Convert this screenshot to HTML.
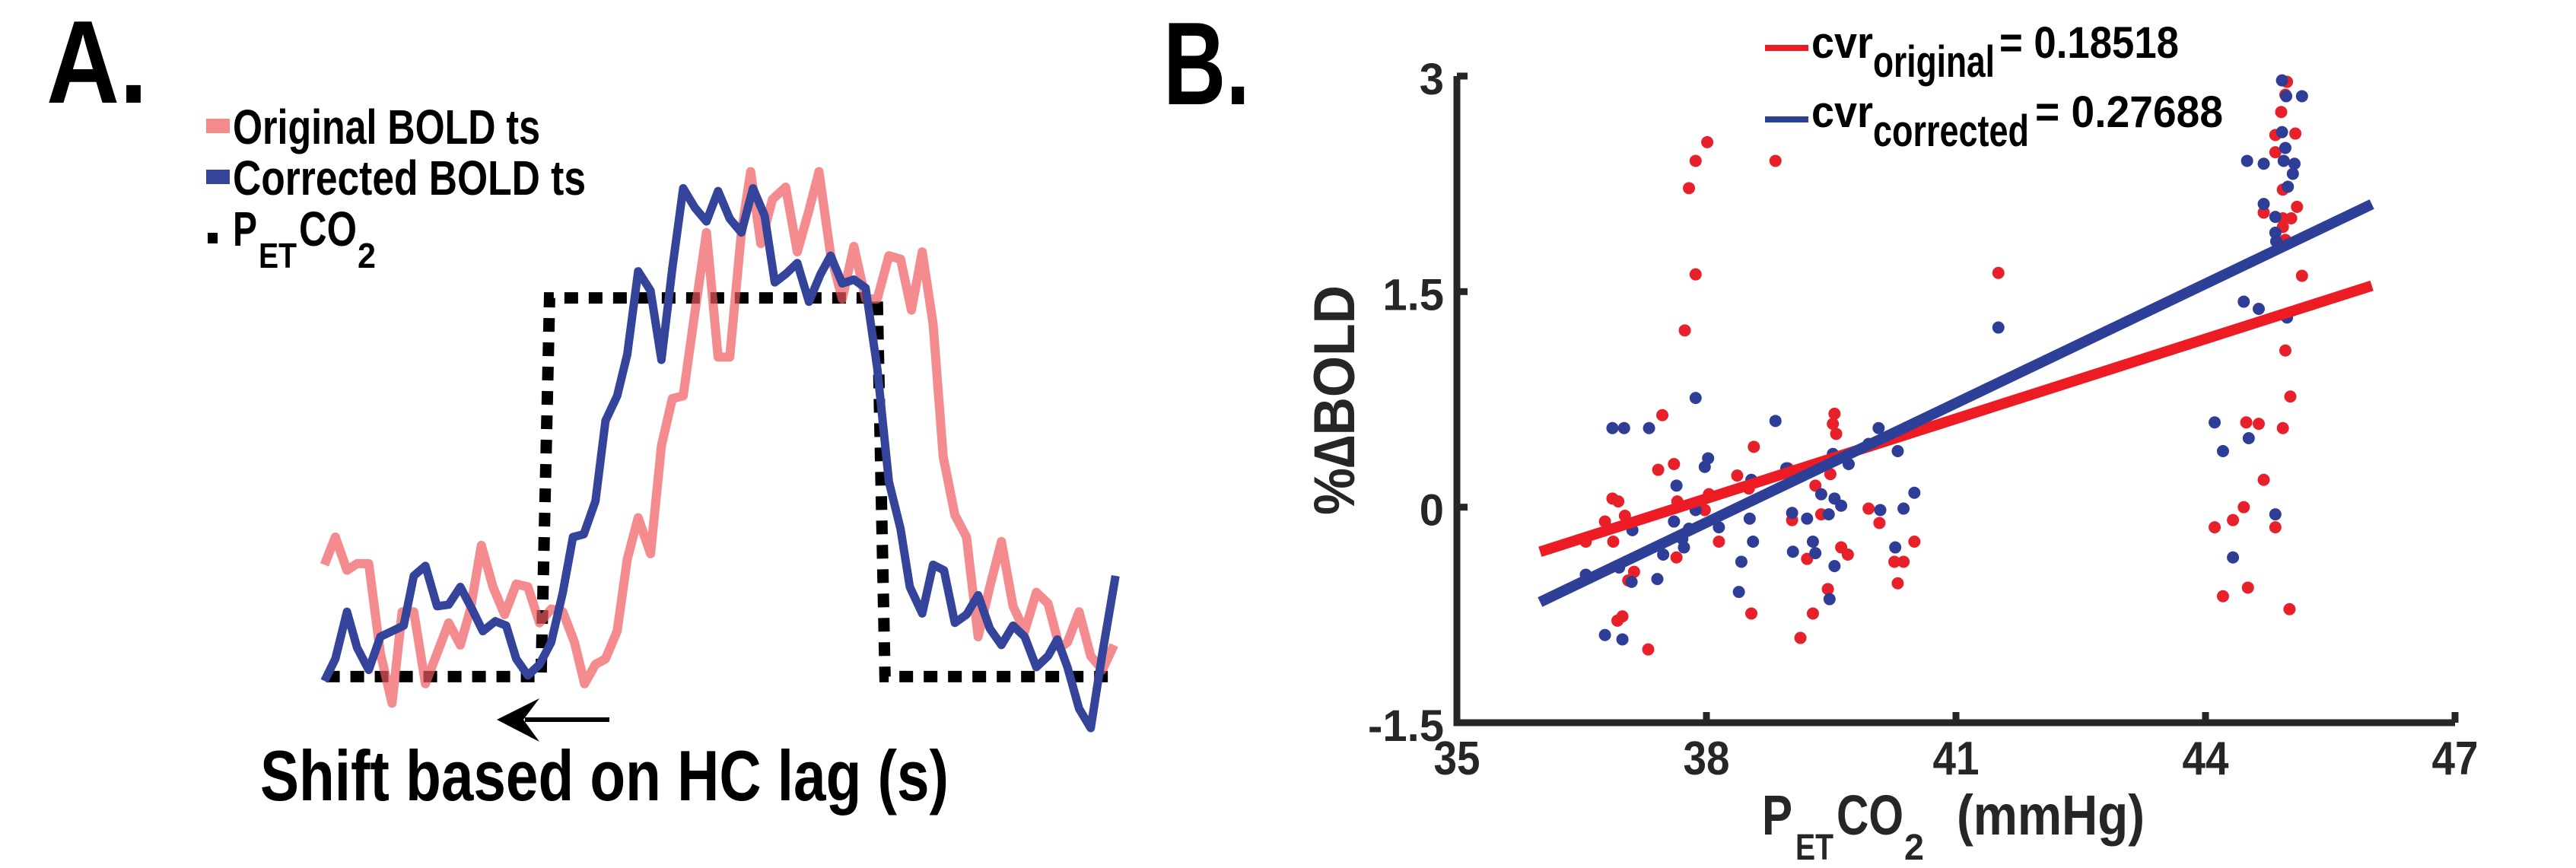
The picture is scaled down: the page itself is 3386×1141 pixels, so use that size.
<!DOCTYPE html>
<html><head><meta charset="utf-8"><style>
html,body{margin:0;padding:0;background:#fff;width:3386px;height:1141px;overflow:hidden}
svg{display:block}
text{font-family:"Liberation Sans",sans-serif}
</style></head><body>
<svg id="fig" width="3386" height="1141" viewBox="0 0 3386 1141" xmlns="http://www.w3.org/2000/svg">
<g id="panelA">
<text x="61" y="135" font-size="155" font-weight="bold" textLength="133" lengthAdjust="spacingAndGlyphs">A.</text>
<g>
<rect x="271" y="156" width="31" height="19" fill="#f48b8b"/>
<text x="306" y="189" font-size="64" font-weight="bold" textLength="404" lengthAdjust="spacingAndGlyphs">Original BOLD ts</text>
<rect x="271" y="223" width="31" height="19" fill="#35449b"/>
<text x="306" y="256" font-size="64" font-weight="bold" textLength="464" lengthAdjust="spacingAndGlyphs">Corrected BOLD ts</text>
<rect x="273" y="306" width="13" height="14" fill="#000"/>
<text x="306" y="323" font-size="64" font-weight="bold"><tspan textLength="32" lengthAdjust="spacingAndGlyphs">P</tspan><tspan x="340" y="352" font-size="46" textLength="50" lengthAdjust="spacingAndGlyphs">ET</tspan><tspan x="393" y="323" textLength="76" lengthAdjust="spacingAndGlyphs">CO</tspan><tspan x="470" y="352" font-size="46" textLength="24" lengthAdjust="spacingAndGlyphs">2</tspan></text>
</g>
<g id="aplot"></g>
<line x1="690" y1="946" x2="801" y2="946" stroke="#000" stroke-width="6"/>
<polygon points="653,946 709,918 688,946 709,975" fill="#000"/>
<text x="342" y="1052" font-size="94" textLength="905" lengthAdjust="spacingAndGlyphs" font-weight="bold">Shift based on HC lag (s)</text>
</g>
<g id="panelB">
<text x="1529" y="137" font-size="155" font-weight="bold" textLength="114" lengthAdjust="spacingAndGlyphs">B.</text>
<g id="bplot"></g>
<g>
<line x1="2320" y1="63" x2="2377" y2="63" stroke="#ed1c24" stroke-width="8"/>
<text y="76" font-size="58" font-weight="bold"><tspan x="2381" textLength="81" lengthAdjust="spacingAndGlyphs">cvr</tspan><tspan x="2462" y="101" textLength="160" lengthAdjust="spacingAndGlyphs">original</tspan><tspan x="2628" y="76" textLength="236" lengthAdjust="spacingAndGlyphs">= 0.18518</tspan></text>
<line x1="2320" y1="157" x2="2377" y2="157" stroke="#2e3f96" stroke-width="8"/>
<text y="167" font-size="58" font-weight="bold"><tspan x="2381" textLength="81" lengthAdjust="spacingAndGlyphs">cvr</tspan><tspan x="2462" y="192" textLength="205" lengthAdjust="spacingAndGlyphs">corrected</tspan><tspan x="2675" y="167" textLength="247" lengthAdjust="spacingAndGlyphs">= 0.27688</tspan></text>
</g>
<text x="2316" y="1097" font-size="74" font-weight="bold" fill="#262626"><tspan textLength="40" lengthAdjust="spacingAndGlyphs">P</tspan><tspan x="2360" y="1130" font-size="48" textLength="50" lengthAdjust="spacingAndGlyphs">ET</tspan><tspan x="2414" y="1097" textLength="88" lengthAdjust="spacingAndGlyphs">CO</tspan><tspan x="2503" y="1130" font-size="48" textLength="26" lengthAdjust="spacingAndGlyphs">2</tspan><tspan x="2572" y="1097" textLength="247" lengthAdjust="spacingAndGlyphs">(mmHg)</tspan></text>
<text transform="translate(1780,526) rotate(-90)" text-anchor="middle" font-size="76" font-weight="bold" fill="#262626" textLength="302" lengthAdjust="spacingAndGlyphs">%∆BOLD</text>
</g>
</svg>
<script>
// ---- Panel A data (time in sample units, signal in arbitrary units) ----
const timeOriginal=[418,432,447,460,475,490,505,518,533,548,563,578,593,606,620,635,650,665,680,695,710,725,740,753,767,780,795,808,822,838,852,866,880,895,910,925,940,955,967,980,995,1012,1027,1042,1055,1070,1085,1100,1115,1130,1145,1160,1174,1188,1202,1215,1230,1245,1260,1275,1290,1305,1320,1335,1350,1365,1375,1390,1405,1420,1435];
const signalOriginal=[202,252,192,204,204,42,-48,117,117,-13,42,97,57,122,237,162,112,167,162,97,122,117,62,-13,22,32,82,212,287,222,417,502,507,657,802,577,577,802,912,782,862,884,767,842,912,762,682,777,682,682,760,754,662,767,637,397,292,252,72,162,244,127,82,152,132,52,62,117,37,12,57];
const timeCorrected=[418,432,447,460,475,490,505,520,533,548,563,578,593,608,622,638,652,665,680,695,710,725,738,752,767,780,795,808,822,838,852,866,880,895,910,925,940,955,970,985,998,1012,1027,1042,1057,1070,1085,1100,1115,1130,1145,1160,1172,1188,1202,1216,1230,1245,1260,1275,1290,1305,1320,1335,1350,1362,1375,1390,1405,1420,1437];
const signalCorrected=[-8,32,117,52,12,72,82,92,182,200,127,130,162,122,82,100,92,32,2,22,62,152,252,257,317,462,507,582,732,697,572,737,882,847,822,877,827,802,882,832,712,727,747,677,727,760,710,717,702,557,352,267,162,114,202,192,97,112,147,87,57,92,72,17,37,67,17,-58,-93,42,182];
const timePet=[420,697,708,1130,1140,1435];
const signalPet=[0,0,684,684,0,0];

// ---- Panel B data ----
const xTicks=[35,38,41,44,47];
const yTicks=[-1.5,0,1.5,3];
const yTickLabels=["-1.5","0","1.5","3"];
const origX=[36.87,36.94,36.78,36.88,36.55,37.02,37.06,37.13,36.93,36.99,37.30,37.42,37.47,37.61,37.65,37.64,37.74,37.79,37.87,37.87,38.01,37.98,38.03,38.15,38.37,38.51,38.54,38.57,38.83,38.98,39.03,39.13,39.21,39.28,39.31,39.38,39.46,39.49,39.52,39.54,39.56,39.62,39.70,39.95,40.08,40.26,40.30,40.37,40.50,41.51,44.11,44.21,44.33,44.46,44.51,44.49,44.64,44.70,44.70,44.84,44.93,44.96,45.02,45.01,45.16,44.98,44.96,44.91,44.84,45.08,44.84,44.93,45.10,45.03,44.93,44.93,44.96];
const origY=[0.06,0.04,-0.10,-0.24,-0.24,-0.06,-0.51,-0.45,-0.79,-0.76,-0.99,0.26,0.64,0.30,0.04,-0.35,1.23,2.22,2.41,1.62,2.54,-0.02,0.09,-0.24,0.22,0.13,-0.74,0.42,2.41,0.27,-0.09,-0.91,-0.36,-0.74,0.15,-0.05,-0.57,0.23,0.58,0.65,0.51,-0.28,-0.33,-0.01,-0.11,-0.38,-0.53,-0.38,-0.24,1.63,-0.14,-0.62,-0.09,0.00,-0.56,0.59,0.58,0.19,2.05,-0.14,0.55,1.09,0.77,-0.71,1.61,2.96,2.87,2.75,2.59,2.60,2.47,2.21,2.09,2.01,2.01,1.95,1.86];
const corrX=[36.78,36.99,36.55,36.87,37.01,37.31,37.11,37.10,36.95,37.41,37.48,37.61,37.64,37.73,37.71,37.79,37.87,37.87,37.98,38.02,38.15,38.39,38.42,38.52,38.56,38.54,38.83,38.96,39.03,39.04,39.21,39.28,39.31,39.38,39.47,39.48,39.54,39.54,39.62,39.52,39.71,39.95,40.07,40.09,40.27,40.30,40.37,40.50,41.51,44.11,44.21,44.33,44.46,44.52,44.64,44.50,44.70,44.70,44.84,44.85,44.84,44.92,44.97,44.92,44.96,44.94,45.07,45.05,44.99,44.98,45.16,44.84];
const corrY=[-0.89,-0.92,-0.47,0.55,0.55,0.55,-0.16,-0.52,-0.42,-0.50,-0.33,-0.10,0.15,-0.28,-0.22,-0.15,0.76,-0.02,0.28,0.34,-0.14,-0.59,-0.38,-0.08,-0.24,0.19,0.60,0.27,-0.04,-0.31,-0.08,-0.24,-0.32,0.09,-0.05,-0.64,-0.41,0.06,0.01,0.37,0.30,0.44,0.55,-0.02,-0.28,0.39,-0.01,0.10,1.25,0.59,0.39,-0.35,1.43,0.48,1.38,2.41,2.39,2.11,1.91,1.85,-0.05,2.97,2.86,2.61,2.50,2.41,2.39,2.32,2.23,1.32,2.86,2.02];
const fitSlope=[0.18518,0.27688];
const fitIntercept=[-6.977,-10.628];
const fitRange=[36,46];

const NS="http://www.w3.org/2000/svg";
function mk(tag,attrs,parent){const e=document.createElementNS(NS,tag);for(const k in attrs)e.setAttribute(k,attrs[k]);parent.appendChild(e);return e;}

// Panel A
const aG=document.getElementById('aplot');
const xA=t=>t/0.98;
const yA=v=>(1222-v)/1.374;
function pts(ts,vs){return ts.map((t,i)=>xA(t).toFixed(1)+","+yA(vs[i]).toFixed(1)).join(" ");}
const pet=mk('polyline',{points:pts(timePet,signalPet),fill:"none",stroke:"#000","stroke-width":15,"stroke-dasharray":"18 14"},aG);


const ro=mk('polyline',{points:pts(timeOriginal,signalOriginal),fill:"none",stroke:"#ee5a5f","stroke-opacity":0.7,"stroke-width":12,"stroke-linejoin":"round"},aG);


const bc=mk('polyline',{points:pts(timeCorrected,signalCorrected),fill:"none",stroke:"#35449b","stroke-width":11,"stroke-linejoin":"round"},aG);



// Panel B
const bG=document.getElementById('bplot');
const X0=1915,X1=3227,Y0=100,Y1=950;
const xB=v=>X0+(v-35)/(47-35)*(X1-X0);
const yB=v=>Y1-(v+1.5)/4.5*(Y1-Y0);
origX.forEach((x,i)=>{
  const c=mk('circle',{cx:xB(x),cy:yB(origY[i]),r:8,fill:"#e8202a"},bG);
  
  
});
corrX.forEach((x,i)=>{
  const c=mk('circle',{cx:xB(x),cy:yB(corrY[i]),r:8,fill:"#2e3d96"},bG);
  
  
});
const fitColors=["#ed1c24","#2e3f98"];
const fitNames=["fit-line-original","fit-line-corrected"];
fitSlope.forEach((m,i)=>{
  const l=mk('line',{x1:xB(fitRange[0]),y1:yB(m*fitRange[0]+fitIntercept[i]),x2:xB(fitRange[1]),y2:yB(m*fitRange[1]+fitIntercept[i]),stroke:fitColors[i],"stroke-width":14},bG);
  
  
});
const ax=mk('path',{d:`M${X0},${Y0} V${Y1} H${X1}`,fill:"none",stroke:"#262626","stroke-width":9},bG);


xTicks.forEach(v=>{
  const t=mk('line',{x1:xB(v),y1:Y1,x2:xB(v),y2:Y1-14,stroke:"#262626","stroke-width":9},bG);
  
  
  const tx=mk('text',{x:xB(v),y:1018,"text-anchor":"middle","font-size":62,"font-weight":"bold",fill:"#262626",textLength:61,lengthAdjust:"spacingAndGlyphs"},bG);
  tx.textContent=String(v);
  
  
});
yTicks.forEach((v,i)=>{
  const t=mk('line',{x1:X0,y1:yB(v),x2:X0+14,y2:yB(v),stroke:"#262626","stroke-width":9},bG);
  
  
  const tx=mk('text',{x:1898,y:yB(v)+24,"text-anchor":"end","font-size":58,"font-weight":"bold",fill:"#262626"},bG);
  tx.textContent=yTickLabels[i];
  
  
});
</script>
</body></html>
